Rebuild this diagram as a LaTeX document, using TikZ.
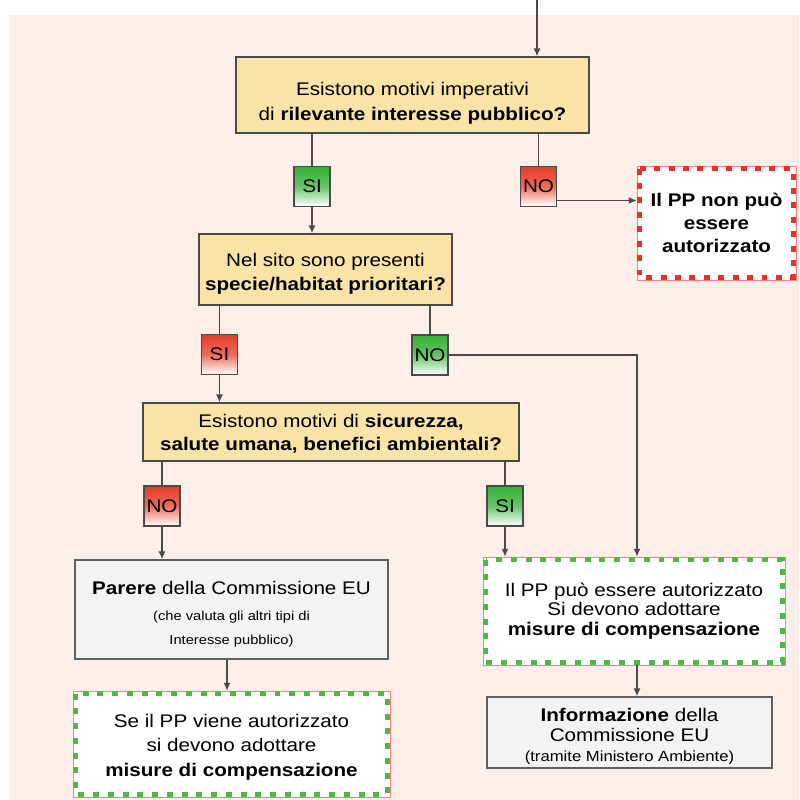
\documentclass[tikz,border=0pt]{standalone}
\usepackage{fontspec}
\setmainfont{Liberation Sans}[FakeStretch=1.13]
\usetikzlibrary{arrows.meta}
\definecolor{bg}{HTML}{FDEEE8}
\definecolor{qfill}{HTML}{FAE3A6}
\definecolor{edge}{HTML}{4A4A4A}
\definecolor{sigreen}{HTML}{34B034}
\definecolor{nored}{HTML}{E63A26}
\definecolor{dgreen}{HTML}{4DB848}
\definecolor{dred}{HTML}{E53228}
\definecolor{gfill}{HTML}{F3F3F5}
\newcommand{\fs}[2]{\fontsize{#1}{#2}\selectfont}
\begin{document}
\begin{tikzpicture}[x=0.02cm, y=-0.02cm, font=\fs{10.4}{14},
  q/.style={draw=edge, line width=0.8pt, fill=qfill, inner sep=0pt},
  tag/.style={draw=edge, line width=0.7pt, minimum width=0.72cm, minimum height=0.8cm, inner sep=0pt},
  tagyes/.style={tag, top color=sigreen, bottom color=white, middle color=sigreen!75},
  tagno/.style={tag, top color=nored, bottom color=white, middle color=nored!75},
  info/.style={draw=gray!75!black, line width=0.8pt, fill=gfill, inner sep=0pt},
  outbox/.style={draw=red!50, line width=0.4pt, fill=white, inner sep=0pt},
  txt/.style={align=center, inner sep=0pt},
  conn/.style={draw=edge, line width=0.7pt},
  arr/.style={conn, -{Latex[length=4.5pt,width=4pt]}},
  gdash/.style={draw=dgreen, line width=3pt, dash pattern=on 3.4pt off 5pt},
  rdash/.style={draw=dred, line width=3pt, dash pattern=on 3.4pt off 4.8pt}]
\useasboundingbox (0,0) rectangle (799,800);
\fill[bg] (10,15) rectangle (799,800);

% nodes
\node[q, minimum width=7.06cm, minimum height=1.52cm,
  label={[txt, font=\fs{10.4}{14.2}, yshift=-4.8pt]center:{Esistono motivi imperativi\\ di \textbf{rilevante interesse pubblico?}}}] (box1) at (412.5,95) {};
\node[tagyes] (si1) at (312,186.5) {SI};
\node[tagno] (no1) at (538.5,186.5) {NO};
\node[outbox, minimum width=3.18cm, minimum height=2.28cm,
  label={[txt, font=\fs{10.4}{13.2}\bfseries]center:{Il PP non può\\ essere\\ autorizzato}}] (nopp) at (716.5,223) {};
\node[q, minimum width=5.06cm, minimum height=1.42cm,
  label={[txt, font=\fs{10.4}{13.6}, yshift=-2.5pt]center:{Nel sito sono presenti\\ \textbf{specie/habitat prioritari?}}}] (box2) at (325.5,269.5) {};
\node[tagno] (si2) at (219.5,354.5) {SI};
\node[tagyes] (no2) at (430,355) {NO};
\node[q, minimum width=7.52cm, minimum height=1.16cm,
  label={[txt, font=\fs{10.4}{12.7}, yshift=-1.1pt]center:{Esistono motivi di \textbf{sicurezza,}\\ \textbf{salute umana, benefici ambientali?}}}] (box3) at (331,432) {};
\node[tagno] (no3) at (162,506) {NO};
\node[tagyes] (si3) at (505,506) {SI};
\node[outbox, minimum width=6.04cm, minimum height=2.16cm,
  label={[txt, font=\fs{10.4}{11}]center:{Il PP può essere autorizzato\\ Si devono adottare\\ \textbf{misure di compensazione}}}] (box4) at (634,611) {};
\node[info, minimum width=6.26cm, minimum height=1.98cm,
  label={[txt, font=\fs{10.4}{13.6}, yshift=-2.8pt]center:{\textbf{Parere} della Commissione EU\\[1pt]
   \fs{7.4}{13.6}(che valuta gli altri tipi di\\ \fs{7.4}{13.6}Interesse pubblico)}}] (box5) at (231.5,609.5) {};
\node[outbox, minimum width=6.34cm, minimum height=2.12cm,
  label={[txt, font=\fs{10.4}{14}, yshift=-1.8pt]center:{Se il PP viene autorizzato\\ si devono adottare\\ \textbf{misure di compensazione}}}] (box7) at (231.5,744) {};
\node[info, minimum width=5.7cm, minimum height=1.42cm,
  label={[txt, font=\fs{10.4}{11.3}, yshift=-2.3pt]center:{\textbf{Informazione} della\\ Commissione EU\\
   \fs{8.4}{10.3}(tramite Ministero Ambiente)}}] (box6) at (629.5,732.5) {};

% dashed borders
\draw[rdash] ([shift={(3,3)}]nopp.north west) rectangle ([shift={(-3,-3)}]nopp.south east);
\draw[gdash] ([shift={(3,3)}]box4.north west) rectangle ([shift={(-3,-3)}]box4.south east);
\draw[gdash] ([shift={(3,3)}]box7.north west) rectangle ([shift={(-3,-3)}]box7.south east);

% connectors
\coordinate (top) at (537,0);
\draw[arr] (top) -- (top |- box1.north);
\draw[conn] (box1.south -| si1) -- (si1.north);
\draw[conn] (box1.south -| no1) -- (no1.north);
\draw[arr] (si1.south) -- (si1 |- box2.north);
\draw[arr] ([yshift=-0.28cm]no1.east) -- ([yshift=-0.28cm]no1.east -| nopp.west);
\draw[conn] (box2.south -| si2) -- (si2.north);
\draw[conn] (box2.south -| no2) -- (no2.north);
\draw[arr] (si2.south) -- (si2 |- box3.north);
\draw[arr] (no2.east) -- ([xshift=0.06cm]no2.east -| box4.north) -- ([xshift=0.06cm]box4.north);
\draw[conn] (box3.south -| no3) -- (no3.north);
\draw[conn] (box3.south -| si3) -- (si3.north);
\draw[arr] (no3.south) -- (no3 |- box5.north);
\draw[arr] (si3.south) -- (si3 |- box4.north);
\draw[arr] ([xshift=-0.09cm]box5.south) -- ([xshift=-0.09cm]box7.north);
\draw[arr] ([xshift=0.06cm]box4.south) -- ([xshift=0.06cm]box4.south |- box6.north);
\end{tikzpicture}
\end{document}
